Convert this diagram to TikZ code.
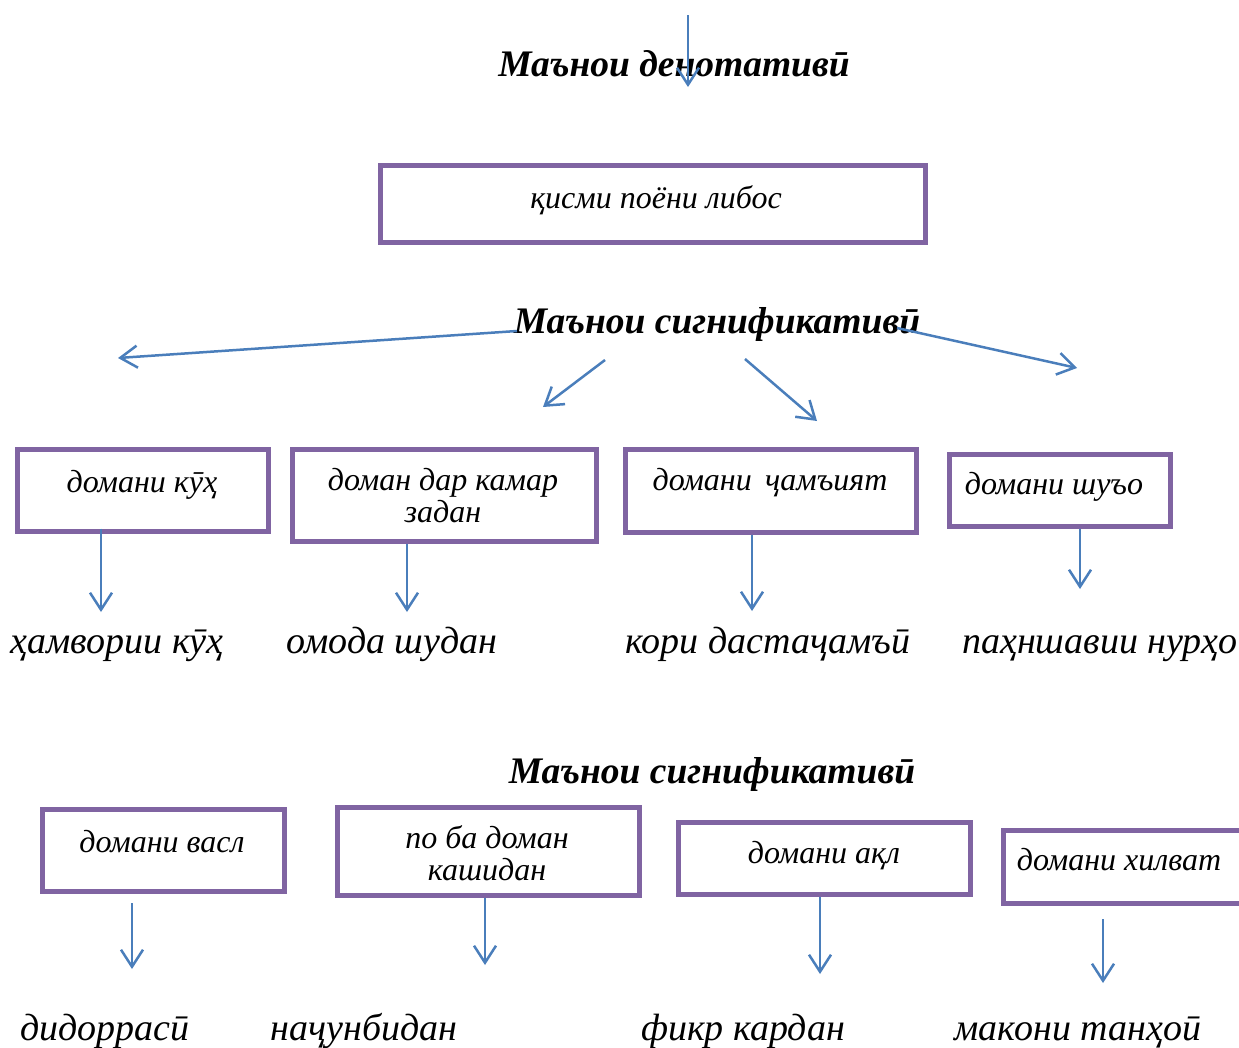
\documentclass[tikz,border=0pt]{standalone}
\usepackage{fontspec}
\setmainfont{Liberation Serif}
\usetikzlibrary{arrows.meta}
\definecolor{boxpurple}{HTML}{8064A2}
\definecolor{arrowblue}{HTML}{4A7EBB}
\tikzset{
  x=1pt, y=-1pt,
  frame/.style={draw=boxpurple, line width=5pt, fill=none, inner sep=0pt},
  boxtext/.style={anchor=base, inner sep=0pt, font=\fontsize{32}{36}\selectfont\itshape},
  leaf/.style={anchor=base, inner sep=0pt, font=\fontsize{38}{42}\selectfont\itshape},
  heading/.style={anchor=base, inner sep=0pt, font=\fontsize{37.5}{42}\selectfont\bfseries\itshape},
  arr/.style={draw=arrowblue, line width=2.5pt, -{Straight Barb[length=17pt, width=22pt, line width=2.5pt]}},
}
\begin{document}
\begin{tikzpicture}
\useasboundingbox (0,0) rectangle (1239,1047);
\clip (0,0) rectangle (1239,1047);

% --- denotative meaning ---
\node[heading] (den) at (674,76) {Маънои денотативӣ};
\coordinate (denA) at (688,15);
\coordinate (denB) at (688,87);
\draw[arr] (denA) -- (denB);

\node[frame, minimum width=545, minimum height=77] (top) at (652.5,203.5) {};
\node[boxtext] (topt) at (656,208) {қисми поёни либос};

% --- first significative block ---
\node[heading] (sig1) at (717,333) {Маънои сигнификативӣ};
\coordinate (s1a) at (517,331);  \coordinate (s1aE) at (118,358);
\coordinate (s1b) at (605,360);  \coordinate (s1bE) at (543,407);
\coordinate (s1c) at (745,359);  \coordinate (s1cE) at (817,421);
\coordinate (s1d) at (897,328);  \coordinate (s1dE) at (1077,368);
\draw[arr] (s1a) -- (s1aE);
\draw[arr] (s1b) -- (s1bE);
\draw[arr] (s1c) -- (s1cE);
\draw[arr] (s1d) -- (s1dE);

\node[frame, minimum width=251, minimum height=82] (b1) at (142.5,490) {};
\node[boxtext] (b1t) at (142,492) {домани кӯҳ};
\node[frame, minimum width=304, minimum height=92] (b2) at (444,495) {};
\node[boxtext] (b2t) at (443,490) {доман дар камар};
\node[boxtext] (b2u) at (443,522) {задан};
\node[frame, minimum width=291, minimum height=83] (b3) at (770.5,490.5) {};
\node[boxtext] (b3t) at (770,490) {домани \,ҷамъият};
\node[frame, minimum width=221, minimum height=72] (b4) at (1059.5,490) {};
\node[boxtext] (b4t) at (1054,494) {домани шуъо};

\coordinate (e1) at (101,612);
\coordinate (e2) at (407,612);
\coordinate (e3) at (752,611);
\coordinate (e4) at (1080,589);
\draw[arr] ([yshift=5pt]b1.south -| e1) -- (e1);
\draw[arr] (b2.south -| e2) -- (e2);
\draw[arr] (b3.south -| e3) -- (e3);
\draw[arr] (b4.south -| e4) -- (e4);

\node[leaf] (l1) at (117,653) {ҳамвории кӯҳ};
\node[leaf] (l2) at (392,653) {омода шудан};
\node[leaf] (l3) at (768,653) {кори дастаҷамъӣ};
\node[leaf] (l4) at (1100,653) {паҳншавии нурҳо};

% --- second significative block ---
\node[heading] (sig2) at (712,783) {Маънои сигнификативӣ};

\node[frame, minimum width=242, minimum height=82] (c1) at (163,850) {};
\node[boxtext] (c1t) at (162,852) {домани васл};
\node[frame, minimum width=302, minimum height=88] (c2) at (488,851) {};
\node[boxtext] (c2t) at (487,848) {по ба доман};
\node[boxtext] (c2u) at (487,880) {кашидан};
\node[frame, minimum width=292, minimum height=72] (c3) at (824,858) {};
\node[boxtext] (c3t) at (824,863) {домани ақл};
\node[frame, minimum width=260, minimum height=73] (c4) at (1133,866.5) {};
\node[boxtext] (c4t) at (1119,870) {домани хилват};

\coordinate (f1s) at (132,903);  \coordinate (f1) at (132,969);
\coordinate (f2) at (485,965);
\coordinate (f3) at (820,974);
\coordinate (f4s) at (1103,919); \coordinate (f4) at (1103,983);
\draw[arr] (f1s) -- (f1);
\draw[arr] (c2.south -| f2) -- (f2);
\draw[arr] (c3.south -| f3) -- (f3);
\draw[arr] (f4s) -- (f4);

\node[leaf] (m1) at (105,1040) {дидоррасӣ};
\node[leaf] (m2) at (364,1040) {наҷунбидан};
\node[leaf] (m3) at (743,1040) {фикр кардан};
\node[leaf] (m4) at (1078,1040) {макони танҳоӣ};
\end{tikzpicture}
\end{document}
